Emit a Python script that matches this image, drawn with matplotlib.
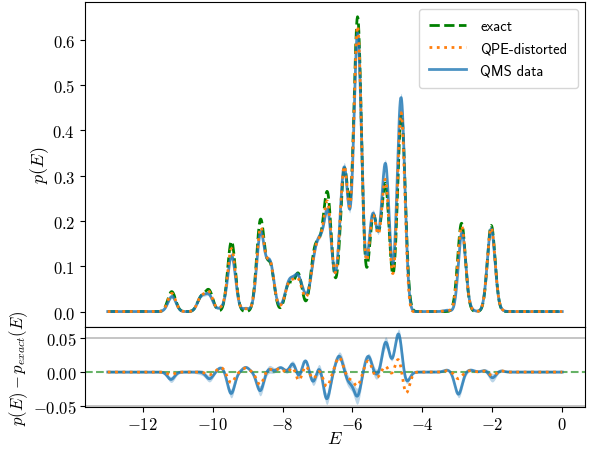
import numpy as np
import matplotlib
matplotlib.use("Agg")
import matplotlib.pyplot as plt
import matplotlib.ticker as ticker

plt.rcParams["mathtext.fontset"] = "cm"

# energy grid of the spectrum
E_min, E_max = -13.0, 0.0

# eigen-levels and their weights (broadened by a gaussian)
levels = [-11.17, -10.33, -10.10, -9.46, -8.63, -8.35, -7.82, -7.55, -7.10, -6.92, -6.71,
          -6.47, -6.24, -6.07, -5.85, -5.42, -5.24, -5.05, -4.60, -2.88, -2.03]
w_exact = [0.044, 0.030, 0.045, 0.155, 0.200, 0.100, 0.060, 0.082, 0.110, 0.100, 0.245,
           0.020, 0.290, 0.070, 0.640, 0.190, 0.070, 0.265, 0.435, 0.195, 0.190]
w_err = [0.003, 0.002, 0.003, 0.005, 0.006, 0.004, 0.003, 0.004, 0.004, 0.004, 0.006,
         0.002, 0.007, 0.003, 0.010, 0.005, 0.003, 0.006, 0.008, 0.005, 0.005]
sigma = 0.11

# deviations from the exact density
r_centers = [-11.19, -10.09, -9.76, -9.47, -9.05, -8.64, -8.40, -8.05, -7.86, -7.69, -7.54,
             -7.35, -7.12, -6.95, -6.74, -6.38, -6.09, -5.86, -5.55, -5.31, -5.05, -4.87,
             -4.68, -4.47, -3.29, -2.97, -2.62, -2.19, -2.00, -1.77]
r_qms = [-0.011, -0.010, 0.0065, -0.032, 0.007, -0.028, 0.005, 0.007, -0.002, 0.016, -0.013,
         0.020, -0.018, 0.0125, -0.041, 0.024, -0.014, -0.035, 0.024, -0.006, 0.044, 0.002,
         0.058, -0.017, 0.003, -0.033, 0.003, 0.003, -0.009, 0.002]
r_qpe = [-0.004, -0.004, 0.007, -0.016, 0.006, -0.019, 0.005, 0.006, -0.004, 0.012, -0.018,
         0.012, -0.012, 0.006, -0.022, 0.022, -0.009, -0.020, 0.017, -0.009, 0.010, -0.007,
         0.023, -0.033, 0.002, -0.010, 0.002, 0.002, -0.006, 0.002]
r_sigma = 0.10
err_base = 0.0015


def broaden(x, centers, amps, s):
    c = np.asarray(centers)[:, None]
    a = np.asarray(amps)[:, None]
    return (a * np.exp(-(x[None, :] - c) ** 2 / (2 * s ** 2))).sum(axis=0)


E = np.linspace(E_min, E_max, 1000)
p_exact = broaden(E, levels, w_exact, sigma)
d_qms = broaden(E, r_centers, r_qms, r_sigma)
d_qpe = broaden(E, r_centers, r_qpe, r_sigma)
p_qms = p_exact + d_qms
p_qpe = p_exact + d_qpe
err = err_base + broaden(E, levels, w_err, sigma)

fig = plt.figure(figsize=(5.96, 4.52), dpi=100)
gs = fig.add_gridspec(2, 1, height_ratios=[325, 80], hspace=0,
                      left=0.1426, right=0.9815, top=0.9934, bottom=0.0973)
ax = fig.add_subplot(gs[0])
axr = fig.add_subplot(gs[1], sharex=ax)

blue = "#1f77b4"
h_ex, = ax.plot(E, p_exact, "--", color="green", lw=2, label="exact", zorder=2)
ax.fill_between(E, p_qms - err, p_qms + err, color=blue, alpha=0.3, lw=0, zorder=2.5)
h_qms, = ax.plot(E, p_qms, "-", color=blue, lw=2, alpha=0.8, label="QMS data", zorder=3)
h_qpe, = ax.plot(E, p_qpe, ":", color="#ff7f0e", lw=2, label="QPE-distorted", zorder=4)
leg = ax.legend(handles=[h_ex, h_qpe, h_qms], loc="upper right",
                prop={"family": ["cmss10", "DejaVu Sans"], "size": 10.5},
                handlelength=2.5, handletextpad=1.0, borderpad=0.7, labelspacing=0.55)

ax.set_ylabel(r"$p(E)$", fontsize=13, labelpad=1)
ax.tick_params(bottom=False, labelbottom=False, labelsize=12)
ax.yaxis.set_major_locator(ticker.MultipleLocator(0.1))
ax.yaxis.set_major_formatter(ticker.FuncFormatter(lambda v, _: rf"${v:.1f}$"))

axr.axhline(0.05, color="#bbbbbb", lw=1.2, zorder=1)
axr.axhline(-0.05, color="#bbbbbb", lw=1.2, zorder=1)
axr.axhline(0.0, ls="--", color="green", lw=1.5, alpha=0.6, zorder=2)
axr.fill_between(E, d_qms - err, d_qms + err, color=blue, alpha=0.3, lw=0, zorder=2.5)
axr.plot(E, d_qms, "-", color=blue, lw=2, alpha=0.8, zorder=3)
axr.plot(E, d_qpe, ":", color="#ff7f0e", lw=2, zorder=4)
axr.set_ylim(-0.052, 0.067)
axr.set_yticks([-0.05, 0.0, 0.05])
axr.yaxis.set_major_formatter(ticker.FuncFormatter(lambda v, _: rf"${v:.2f}$"))
axr.xaxis.set_major_locator(ticker.MultipleLocator(2))
axr.xaxis.set_major_formatter(ticker.FuncFormatter(lambda v, _: rf"${v:.0f}$"))
axr.tick_params(labelsize=12, pad=2.5)
axr.set_xlabel(r"$E$", fontsize=13, labelpad=-3)
axr.set_ylabel(r"$p(E) - p_{exact}(E)$", fontsize=12, labelpad=2)

fig.savefig("out.png", dpi=100)
